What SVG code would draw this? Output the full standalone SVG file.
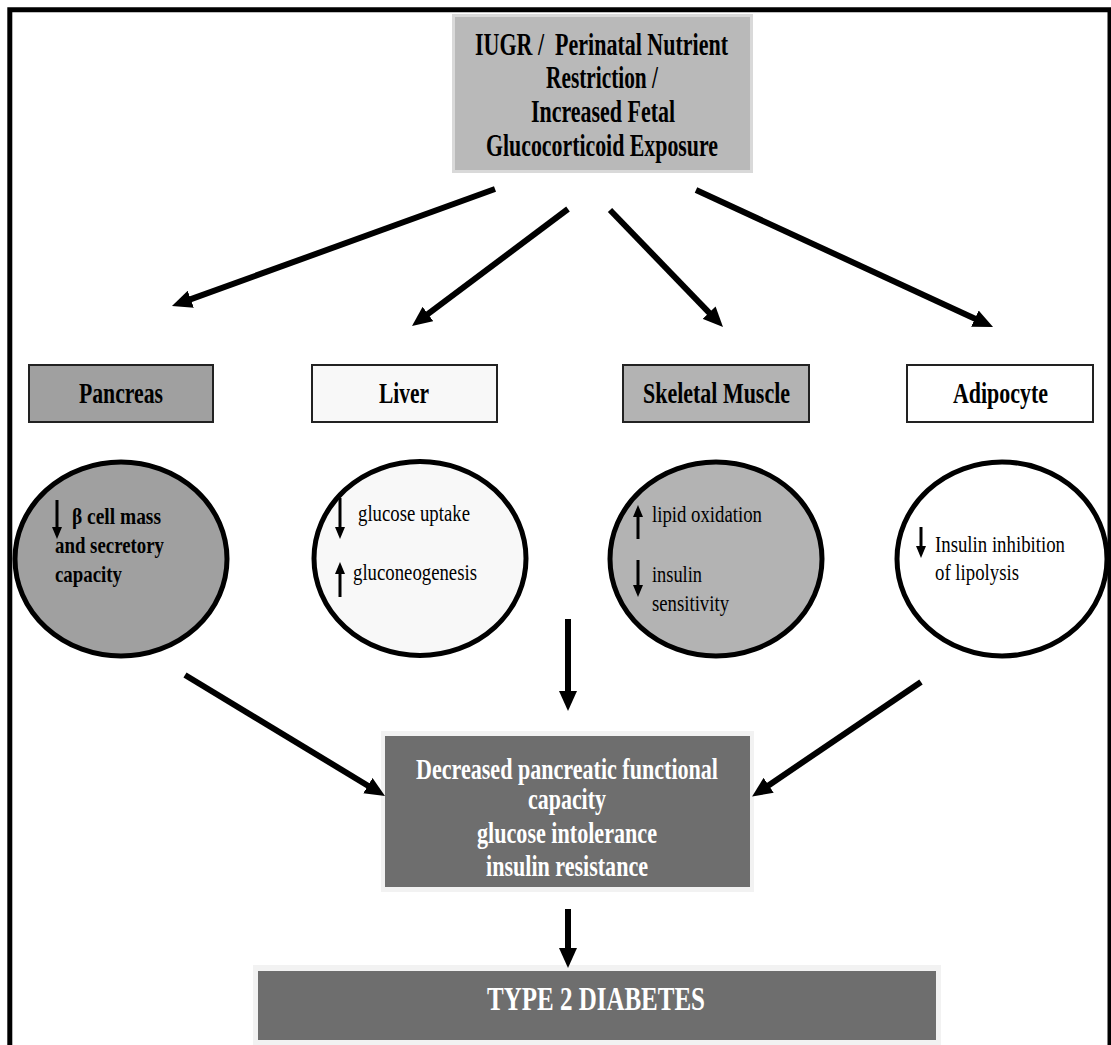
<svg xmlns="http://www.w3.org/2000/svg" width="1111" height="1045" viewBox="0 0 1111 1045">
<defs>
<style>
.bt{font-family:"Liberation Serif","Times New Roman",serif;font-weight:bold;fill:#000}
.rt{font-family:"Liberation Serif","Times New Roman",serif;fill:#000}
.wt{font-family:"Liberation Serif","Times New Roman",serif;font-weight:bold;fill:#fff}
.conn{stroke:#000;stroke-width:6;fill:none;marker-end:url(#ah)}
.sa{stroke:#000;stroke-width:3;fill:none;marker-end:url(#sm)}
.obox{stroke:#222;stroke-width:2}
.ell{stroke:#000;stroke-width:5}
</style>
<marker id="ah" viewBox="0 0 20 18" markerWidth="20" markerHeight="18" refX="2" refY="9" orient="auto" markerUnits="userSpaceOnUse">
<path d="M0,0 L20,9 L0,18 Z" fill="#000"/>
</marker>
<marker id="sm" viewBox="0 0 12 10" markerWidth="12" markerHeight="10" refX="2" refY="5" orient="auto" markerUnits="userSpaceOnUse">
<path d="M0,0 L12,5 L0,10 Z" fill="#000"/>
</marker>
</defs>
<rect width="1111" height="1045" fill="#fff"/>
<path d="M9.8,1045 V9.8 H1110 V1045" fill="none" stroke="#000" stroke-width="5"/>

<g id="source">
<rect x="452" y="14" width="301" height="159" fill="#d9d9d9"/>
<rect x="455" y="17" width="295" height="153" fill="#b9b9b9"/>
<text class="bt" font-size="32" x="475" y="55" textLength="253" lengthAdjust="spacingAndGlyphs" xml:space="preserve">IUGR /  Perinatal Nutrient</text>
<text class="bt" font-size="32" x="546" y="88" textLength="112" lengthAdjust="spacingAndGlyphs">Restriction /</text>
<text class="bt" font-size="32" x="531" y="122" textLength="144" lengthAdjust="spacingAndGlyphs">Increased Fetal</text>
<text class="bt" font-size="32" x="486" y="156" textLength="232" lengthAdjust="spacingAndGlyphs">Glucocorticoid Exposure</text>
</g>

<g id="pancreas">
<rect class="obox" x="29" y="365" width="184" height="57" fill="#a0a0a0"/>
<text class="bt" font-size="30" x="79" y="403" textLength="84" lengthAdjust="spacingAndGlyphs">Pancreas</text>
<ellipse class="ell" cx="121" cy="559" rx="106" ry="97" fill="#a0a0a0"/>
<line class="sa" x1="57" y1="500" x2="57" y2="529"/>
<text class="bt" font-size="24" x="72" y="524" textLength="89" lengthAdjust="spacingAndGlyphs">β cell mass</text>
<text class="bt" font-size="24" x="55" y="553" textLength="109" lengthAdjust="spacingAndGlyphs">and secretory</text>
<text class="bt" font-size="24" x="55" y="582" textLength="67" lengthAdjust="spacingAndGlyphs">capacity</text>
</g>

<g id="liver">
<rect class="obox" x="312" y="365" width="185" height="57" fill="#f8f8f8"/>
<text class="bt" font-size="30" x="379" y="403" textLength="50" lengthAdjust="spacingAndGlyphs">Liver</text>
<ellipse class="ell" cx="420" cy="558.5" rx="106" ry="97" fill="#f8f8f8"/>
<line class="sa" x1="340" y1="498" x2="340" y2="529"/>
<line class="sa" x1="340" y1="597" x2="340" y2="572"/>
<text class="rt" font-size="24" x="358" y="521" textLength="112" lengthAdjust="spacingAndGlyphs">glucose uptake</text>
<text class="rt" font-size="24" x="353" y="580" textLength="124" lengthAdjust="spacingAndGlyphs">gluconeogenesis</text>
</g>

<g id="skeletal-muscle">
<rect class="obox" x="623" y="365" width="186" height="57" fill="#b3b3b3"/>
<text class="bt" font-size="30" x="643" y="403" textLength="147" lengthAdjust="spacingAndGlyphs">Skeletal Muscle</text>
<ellipse class="ell" cx="716" cy="559" rx="106" ry="97" fill="#b3b3b3"/>
<line class="sa" x1="638" y1="539" x2="638" y2="515"/>
<line class="sa" x1="638" y1="560" x2="638" y2="587"/>
<text class="rt" font-size="24" x="652" y="522" textLength="110" lengthAdjust="spacingAndGlyphs">lipid oxidation</text>
<text class="rt" font-size="24" x="652" y="582" textLength="50" lengthAdjust="spacingAndGlyphs">insulin</text>
<text class="rt" font-size="24" x="652" y="611" textLength="77" lengthAdjust="spacingAndGlyphs">sensitivity</text>
</g>

<g id="adipocyte">
<rect class="obox" x="907" y="365" width="186" height="57" fill="#fff"/>
<text class="bt" font-size="30" x="953" y="403" textLength="95" lengthAdjust="spacingAndGlyphs">Adipocyte</text>
<ellipse class="ell" cx="1002" cy="559" rx="105" ry="97" fill="#fff"/>
<line class="sa" x1="921" y1="527" x2="921" y2="548"/>
<text class="rt" font-size="24" x="935" y="552" textLength="130" lengthAdjust="spacingAndGlyphs">Insulin inhibition</text>
<text class="rt" font-size="24" x="935" y="580" textLength="84" lengthAdjust="spacingAndGlyphs">of lipolysis</text>
</g>

<g id="outcome">
<rect x="381" y="731" width="373" height="161" fill="#f2f2f2"/>
<rect x="385" y="736" width="365" height="151" fill="#6e6e6e"/>
<text class="wt" font-size="29" x="416" y="779" textLength="302" lengthAdjust="spacingAndGlyphs">Decreased pancreatic functional</text>
<text class="wt" font-size="29" x="528" y="809" textLength="78" lengthAdjust="spacingAndGlyphs">capacity</text>
<text class="wt" font-size="29" x="477" y="843" textLength="180" lengthAdjust="spacingAndGlyphs">glucose intolerance</text>
<text class="wt" font-size="29" x="486" y="876" textLength="162" lengthAdjust="spacingAndGlyphs">insulin resistance</text>
</g>

<g id="diabetes">
<rect x="253" y="965" width="688" height="80" fill="#f2f2f2"/>
<rect x="258" y="971" width="678" height="69" fill="#6e6e6e"/>
<text class="wt" font-size="34" x="487" y="1010" textLength="218" lengthAdjust="spacingAndGlyphs">TYPE 2 DIABETES</text>
</g>

<g id="connectors">
<line class="conn" x1="495" y1="189" x2="188.9" y2="299.9"/>
<line class="conn" x1="568" y1="209" x2="426.4" y2="315.2"/>
<line class="conn" x1="610" y1="210" x2="710.5" y2="314.1"/>
<line class="conn" x1="696" y1="190" x2="976.7" y2="319.5"/>
<line class="conn" x1="568" y1="619" x2="568" y2="693"/>
<line class="conn" x1="185" y1="675" x2="369.6" y2="786.7"/>
<line class="conn" x1="921" y1="682" x2="767" y2="786.4"/>
<line class="conn" x1="568" y1="909" x2="568" y2="950"/>
</g>
</svg>
